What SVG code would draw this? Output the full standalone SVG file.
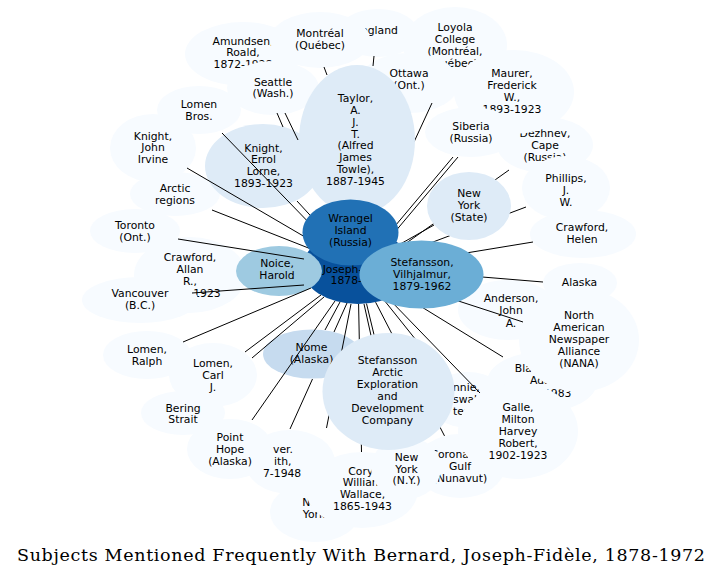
<svg xmlns="http://www.w3.org/2000/svg" width="723" height="580" viewBox="0 0 723 580">
<style>
.t{font-family:"DejaVu Sans","Noto Sans",sans-serif;font-size:10.8px;text-anchor:middle;fill:#000}
.f{font-family:"DejaVu Sans","Noto Sans",sans-serif;font-size:10.8px;text-anchor:start;fill:#000}
.l0{fill:#f7fbff}
.l1{fill:#deebf7}
.l2{fill:#c6dbef}
.l3{fill:#9ecae1}
.l4{fill:#6baed6}
.l5{fill:#2171b5}
.l6{fill:#08519c}
#connectors line{stroke:#000;stroke-width:1}
.title{font-family:"DejaVu Serif","Liberation Serif",serif;font-size:17.5px;fill:#000}
</style>
<rect width="723" height="580" fill="#fff"/>
<g id="n-england"><ellipse class="l0" cx="378" cy="33" rx="40" ry="24"/><text class="t" x="376" y="33.8">England</text></g>
<g id="n-amundsen"><ellipse class="l0" cx="243" cy="54" rx="58" ry="32"/><text class="t" x="243" y="44.5"><tspan x="243">Amundsen,</tspan><tspan x="243" dy="11.9">Roald,</tspan><tspan x="243" dy="11.9">1872-1928</tspan></text></g>
<g id="n-montreal"><ellipse class="l0" cx="320" cy="40" rx="50" ry="28"/><text class="t" x="320" y="37.1"><tspan x="320">Montréal</tspan><tspan x="320" dy="11.9">(Québec)</tspan></text></g>
<g id="n-seattle"><ellipse class="l0" cx="273" cy="88" rx="46" ry="27"/><text class="t" x="273" y="85.5"><tspan x="273">Seattle</tspan><tspan x="273" dy="11.9">(Wash.)</tspan></text></g>
<g id="n-loyola"><ellipse class="l0" cx="455" cy="45" rx="52" ry="38"/><text class="t" x="455" y="30.5"><tspan x="455">Loyola</tspan><tspan x="455" dy="12">College</tspan><tspan x="455" dy="12">(Montréal,</tspan><tspan x="455" dy="12">Québec)</tspan></text></g>
<g id="n-dezhnev"><ellipse class="l0" cx="545" cy="145" rx="48" ry="28"/><text class="t" x="545" y="136.8"><tspan x="545">Dezhnev,</tspan><tspan x="545" dy="11.9">Cape</tspan><tspan x="545" dy="11.9">(Russia)</tspan></text></g>
<g id="n-maurer"><ellipse class="l0" cx="514" cy="92" rx="60" ry="42"/><text class="t" x="512" y="76.5"><tspan x="512">Maurer,</tspan><tspan x="512" dy="12">Frederick</tspan><tspan x="512" dy="12">W.,</tspan><tspan x="512" dy="12">1893-1923</tspan></text></g>
<g id="n-ottawa"><ellipse class="l0" cx="409" cy="83" rx="50" ry="30"/><text class="t" x="409" y="77.1"><tspan x="409">Ottawa</tspan><tspan x="409" dy="12">(Ont.)</tspan></text></g>
<g id="n-siberia"><ellipse class="l0" cx="471" cy="132" rx="46" ry="25"/><text class="t" x="471" y="129.8"><tspan x="471">Siberia</tspan><tspan x="471" dy="12">(Russia)</tspan></text></g>
<g id="n-lomenbros"><ellipse class="l0" cx="199" cy="110" rx="42" ry="24"/><text class="t" x="199" y="108.1"><tspan x="199">Lomen</tspan><tspan x="199" dy="11.9">Bros.</tspan></text></g>
<g id="n-knightjohn"><ellipse class="l0" cx="153" cy="148" rx="43" ry="34"/><text class="t" x="153" y="139.8"><tspan x="153">Knight,</tspan><tspan x="153" dy="11.6">John</tspan><tspan x="153" dy="11.6">Irvine</tspan></text></g>
<g id="n-arctic"><ellipse class="l0" cx="175" cy="194" rx="45" ry="22"/><text class="t" x="175" y="192.1"><tspan x="175">Arctic</tspan><tspan x="175" dy="11.9">regions</tspan></text></g>
<g id="n-toronto"><ellipse class="l0" cx="135" cy="231" rx="45" ry="22"/><text class="t" x="135" y="228.8"><tspan x="135">Toronto</tspan><tspan x="135" dy="12">(Ont.)</tspan></text></g>
<g id="n-crawfordallan"><ellipse class="l0" cx="190" cy="275" rx="56" ry="38"/><text class="t" x="190" y="260.5"><tspan x="190">Crawford,</tspan><tspan x="190" dy="12">Allan</tspan><tspan x="190" dy="12">R.,</tspan><tspan x="207" dy="12.4">1923</tspan></text></g>
<g id="n-vancouver"><ellipse class="l0" cx="140" cy="300" rx="58" ry="23"/><text class="t" x="140" y="297.1"><tspan x="140">Vancouver</tspan><tspan x="140" dy="12">(B.C.)</tspan></text></g>
<g id="n-crawfordhelen"><ellipse class="l0" cx="583" cy="234" rx="53" ry="24"/><text class="t" x="582" y="230.8"><tspan x="582">Crawford,</tspan><tspan x="582" dy="12">Helen</tspan></text></g>
<g id="n-phillips"><ellipse class="l0" cx="566" cy="188" rx="44" ry="32"/><text class="t" x="566" y="181.8"><tspan x="566">Phillips,</tspan><tspan x="566" dy="12">J.</tspan><tspan x="566" dy="12">W.</tspan></text></g>
<g id="n-alaska"><ellipse class="l0" cx="580" cy="283" rx="37" ry="20"/><text class="t" x="579.5" y="286.1">Alaska</text></g>
<g id="n-anderson"><ellipse class="l0" cx="508" cy="310" rx="50" ry="30"/><text class="t" x="511" y="302.1"><tspan x="511">Anderson,</tspan><tspan x="511" dy="12.2">John</tspan><tspan x="511" dy="12.2">A.</tspan></text></g>
<g id="n-blackjack"><ellipse class="l0" cx="542" cy="382" rx="55" ry="30"/><text class="t" x="542" y="372.1"><tspan x="542">Blackjack,</tspan><tspan x="542" dy="12.2">Ada,</tspan><tspan x="542" dy="12.2">1898-1983</tspan></text></g>
<g id="n-nana"><ellipse class="l0" cx="579" cy="340" rx="60" ry="52"/><text class="t" x="579" y="318.8"><tspan x="579">North</tspan><tspan x="579" dy="12.1">American</tspan><tspan x="579" dy="12.1">Newspaper</tspan><tspan x="579" dy="12.1">Alliance</tspan><tspan x="579" dy="12.1">(NANA)</tspan></text></g>
<g id="n-nnie"><ellipse class="l0" cx="468" cy="400" rx="40" ry="28"/><text class="f" x="453" y="390.8"><tspan x="453">nnie,</tspan><tspan x="453" dy="12.4">swal</tspan><tspan x="453" dy="12">ter</tspan></text></g>
<g id="n-coronation"><ellipse class="l0" cx="460" cy="466" rx="45" ry="32"/><text class="t" x="460" y="458.1"><tspan x="460">Coronation</tspan><tspan x="460" dy="12">Gulf</tspan><tspan x="460" dy="12">(Nunavut)</tspan></text></g>
<g id="n-galle"><ellipse class="l0" cx="518" cy="431" rx="60" ry="48"/><text class="t" x="518" y="411.1"><tspan x="518">Galle,</tspan><tspan x="518" dy="11.9">Milton</tspan><tspan x="518" dy="11.9">Harvey</tspan><tspan x="518" dy="11.9">Robert,</tspan><tspan x="518" dy="11.9">1902-1923</tspan></text></g>
<g id="n-lomenralph"><ellipse class="l0" cx="147" cy="355" rx="44" ry="24"/><text class="t" x="147" y="353.1"><tspan x="147">Lomen,</tspan><tspan x="147" dy="12">Ralph</tspan></text></g>
<g id="n-lomencarl"><ellipse class="l0" cx="213" cy="375" rx="44" ry="32"/><text class="t" x="213" y="366.5"><tspan x="213">Lomen,</tspan><tspan x="213" dy="12">Carl</tspan><tspan x="213" dy="12">J.</tspan></text></g>
<g id="n-bering"><ellipse class="l0" cx="183" cy="413" rx="42" ry="22"/><text class="t" x="183" y="411.5"><tspan x="183">Bering</tspan><tspan x="183" dy="11.5">Strait</tspan></text></g>
<g id="n-ver"><ellipse class="l0" cx="290" cy="462" rx="45" ry="32"/><text class="f" x="273" y="452.8"><tspan x="273">ver.</tspan><tspan x="274" dy="11.9">ith,</tspan><tspan x="263" dy="11.9">7-1948</tspan></text></g>
<g id="n-pointhope"><ellipse class="l0" cx="230" cy="449" rx="43" ry="30"/><text class="t" x="230" y="440.5"><tspan x="230">Point</tspan><tspan x="230" dy="12">Hope</tspan><tspan x="230" dy="12">(Alaska)</tspan></text></g>
<g id="n-nyo"><ellipse class="l0" cx="315" cy="512" rx="45" ry="30"/><text class="t" x="314" y="505.8"><tspan x="314">New</tspan><tspan x="314" dy="12">York</tspan></text></g>
<g id="n-cory"><ellipse class="l0" cx="362" cy="490" rx="56" ry="38"/><text class="t" x="362.5" y="474.5"><tspan x="362.5">Cory,</tspan><tspan x="362.5" dy="11.8">William</tspan><tspan x="362.5" dy="11.8">Wallace,</tspan><tspan x="362.5" dy="11.8">1865-1943</tspan></text></g>
<g id="n-newyorkny"><ellipse class="l0" cx="406" cy="468" rx="35" ry="31"/><text class="t" x="406.5" y="460.5"><tspan x="406.5">New</tspan><tspan x="406.5" dy="12">York</tspan><tspan x="406.5" dy="11.5">(N.Y.)</tspan></text></g>
<g id="n-knighterrol"><ellipse class="l1" cx="263" cy="166" rx="58" ry="42"/><text class="t" x="263.5" y="151.5"><tspan x="263.5">Knight,</tspan><tspan x="263.5" dy="11.9">Errol</tspan><tspan x="263.5" dy="11.9">Lorne,</tspan><tspan x="263.5" dy="11.9">1893-1923</tspan></text></g>
<g id="n-nome"><ellipse class="l2" cx="312" cy="354" rx="49" ry="24.5"/><text class="t" x="311.5" y="351.1"><tspan x="311.5">Nome</tspan><tspan x="311.5" dy="12">(Alaska)</tspan></text></g>
<g id="n-bernard"><ellipse class="l6" cx="358" cy="268" rx="56" ry="36"/><text class="t" x="360" y="261.3"><tspan x="360">Bernard,</tspan><tspan x="360" dy="11.5">Joseph-Fidèle,</tspan><tspan x="360" dy="11.5">1878-1972</tspan></text></g>
<g id="n-noice"><ellipse class="l3" cx="279" cy="271" rx="43" ry="25"/><text class="t" x="277" y="267.1"><tspan x="277">Noice,</tspan><tspan x="277" dy="11.7">Harold</tspan></text></g>
<g id="connectors">
<line x1="222" y1="133" x2="318" y2="232"/>
<line x1="297" y1="201" x2="320" y2="226"/>
<line x1="187" y1="168" x2="317" y2="244"/>
<line x1="212" y1="210" x2="311" y2="249"/>
<line x1="178" y1="239" x2="304" y2="259"/>
<line x1="192" y1="293" x2="304" y2="285"/>
<line x1="183" y1="342" x2="311" y2="288"/>
<line x1="245" y1="352" x2="321" y2="295"/>
<line x1="252" y1="358" x2="324" y2="297"/>
<line x1="252" y1="420" x2="335" y2="301"/>
<line x1="340" y1="302" x2="325" y2="330"/>
<line x1="347" y1="303" x2="334" y2="332"/>
<line x1="312.5" y1="379" x2="290" y2="429"/>
<line x1="351" y1="304" x2="326.5" y2="428"/>
<line x1="358.6" y1="304" x2="361.5" y2="452"/>
<line x1="366.5" y1="303.6" x2="399" y2="438"/>
<line x1="375.6" y1="302.2" x2="444.5" y2="435.9"/>
<line x1="364" y1="304" x2="372" y2="340"/>
<line x1="384" y1="300" x2="420" y2="345"/>
<line x1="388" y1="298" x2="480" y2="393"/>
<line x1="399" y1="293" x2="503" y2="357"/>
<line x1="400" y1="282" x2="523" y2="322"/>
<line x1="470" y1="276" x2="543" y2="282"/>
<line x1="460" y1="254" x2="533" y2="242"/>
<line x1="425" y1="245" x2="526" y2="207"/>
<line x1="395" y1="247" x2="434" y2="225"/>
<line x1="405" y1="244" x2="509" y2="170"/>
<line x1="453" y1="157" x2="390" y2="232"/>
<line x1="458" y1="157" x2="394" y2="233"/>
<line x1="432" y1="103" x2="414" y2="142"/>
<line x1="374" y1="56" x2="373" y2="66"/>
<line x1="324" y1="67" x2="327" y2="75"/>
<line x1="285" y1="113" x2="298" y2="140"/>
<line x1="277" y1="113" x2="283" y2="127"/>
</g>
<g id="n-taylor"><ellipse class="l1" cx="357" cy="140" rx="58" ry="75"/><text class="t" x="355.5" y="102.1"><tspan x="355.5">Taylor,</tspan><tspan x="355.5" dy="11.8">A.</tspan><tspan x="355.5" dy="11.8">J.</tspan><tspan x="355.5" dy="11.8">T.</tspan><tspan x="355.5" dy="11.8">(Alfred</tspan><tspan x="355.5" dy="11.8">James</tspan><tspan x="355.5" dy="11.8">Towle),</tspan><tspan x="355.5" dy="11.8">1887-1945</tspan></text></g>
<g id="n-newyorkstate"><ellipse class="l1" cx="469" cy="206" rx="42" ry="34"/><text class="t" x="469" y="196.8"><tspan x="469">New</tspan><tspan x="469" dy="12">York</tspan><tspan x="469" dy="12">(State)</tspan></text></g>
<g id="n-stefanssonarctic"><ellipse class="l1" cx="388.5" cy="391.5" rx="66" ry="58.5"/><text class="t" x="387.5" y="363.8"><tspan x="387.5">Stefansson</tspan><tspan x="387.5" dy="12.1">Arctic</tspan><tspan x="387.5" dy="12.1">Exploration</tspan><tspan x="387.5" dy="12.1">and</tspan><tspan x="387.5" dy="12.1">Development</tspan><tspan x="387.5" dy="12.1">Company</tspan></text></g>
<g id="n-wrangel"><ellipse class="l5" cx="350.5" cy="232.5" rx="48" ry="33"/><text class="t" x="350.5" y="222.1"><tspan x="350.5">Wrangel</tspan><tspan x="350.5" dy="12">Island</tspan><tspan x="350.5" dy="12">(Russia)</tspan></text></g>
<g id="n-stefansson"><ellipse class="l4" cx="421.5" cy="274.5" rx="62" ry="34"/><text class="t" x="422" y="265.5"><tspan x="422">Stefansson,</tspan><tspan x="422" dy="12">Vilhjalmur,</tspan><tspan x="422" dy="12">1879-1962</tspan></text></g>
<text class="title" x="17" y="561" textLength="688" lengthAdjust="spacing">Subjects Mentioned Frequently With Bernard, Joseph-Fidèle, 1878-1972</text>
</svg>
